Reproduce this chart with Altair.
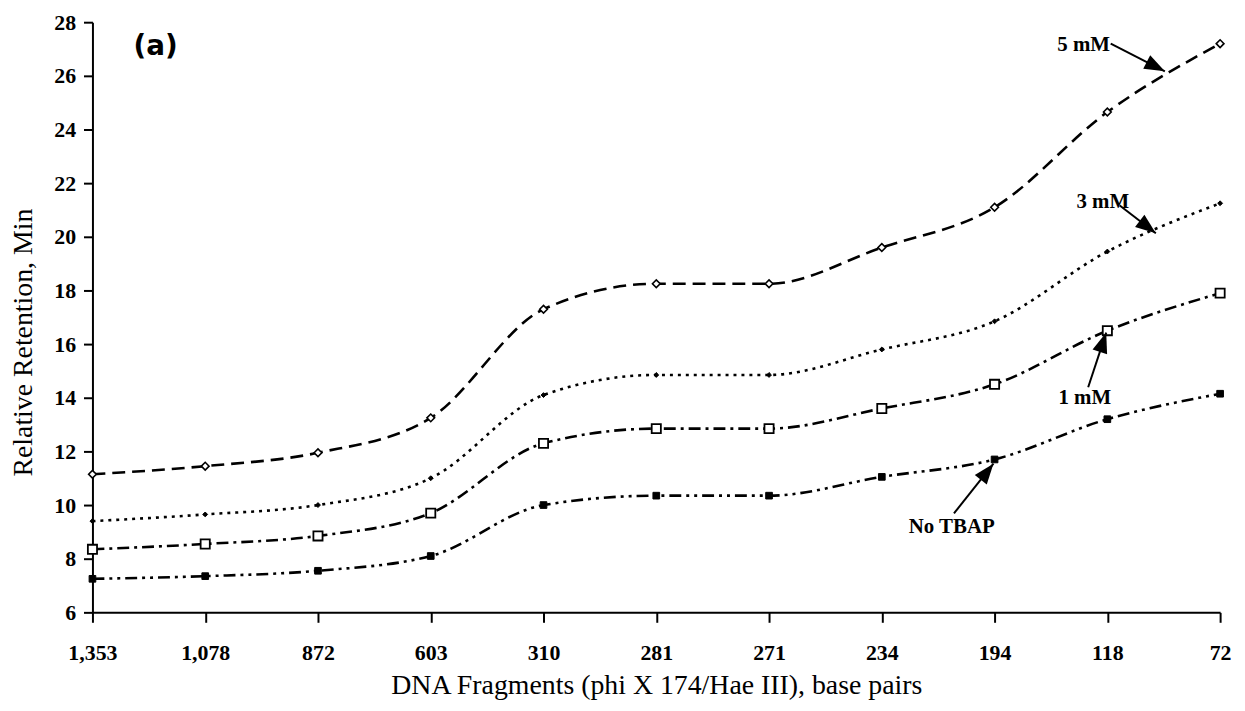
import math
import json
import altair as alt
import pandas as pd

# ---- data ----
fragments = ["1,353", "1,078", "872", "603", "310", "281", "271", "234", "194", "118", "72"]
mm5 = [11.15, 11.45, 11.95, 13.25, 17.3, 18.25, 18.25, 19.6, 21.1, 24.65, 27.2]
mm3 = [9.4, 9.65, 10.0, 11.0, 14.1, 14.85, 14.85, 15.8, 16.85, 19.45, 21.25]
mm1 = [8.35, 8.55, 8.85, 9.7, 12.3, 12.85, 12.85, 13.6, 14.5, 16.5, 17.9]
no_tbap = [7.25, 7.35, 7.55, 8.1, 10.0, 10.35, 10.35, 11.05, 11.7, 13.2, 14.15]

# annotation labels and arrows (data coordinates: x = fragment index, y = retention)
ann_text = ["5 mM", "3 mM", "1 mM", "No TBAP"]
ann_tx = [8.79, 8.96, 8.80, 7.62]
ann_ty = [27.13, 21.28, 13.98, 9.17]
arr_sx = [9.03, 9.11, 8.83, 7.64]
arr_sy = [27.2, 21.17, 14.39, 9.69]
arr_ex = [9.51, 9.43, 8.99, 7.99]
arr_ey = [26.17, 20.13, 16.43, 11.54]

panel_label = ["(a)"]
panel_x = [0.56]
panel_y = [27.09]

y_ticks = list(range(6, 29, 2))

W, H = 1135, 594
X_DOMAIN = [0, len(fragments) - 1]
Y_DOMAIN = [6, 28]

xscale = alt.Scale(domain=X_DOMAIN, nice=False, zero=False)
yscale = alt.Scale(domain=Y_DOMAIN, nice=False, zero=False)

label_expr = json.dumps(fragments) + "[datum.value]"

serif = "Liberation Serif"

x_axis = alt.Axis(
    values=list(range(len(fragments))), labelExpr=label_expr, grid=False,
    title="DNA Fragments (phi X 174/Hae III), base pairs",
    labelPadding=20, titlePadding=9, labelFlush=False, tickSize=10,
)
y_axis = alt.Axis(values=y_ticks, grid=False, title="Relative Retention, Min",
                  labelPadding=8, titlePadding=16, tickSize=9, titleY=322)


def X(field):
    return alt.X(field, type="quantitative", scale=xscale, axis=x_axis)


def Y(field):
    return alt.Y(field, type="quantitative", scale=yscale, axis=y_axis)


series = [
    ("5 mM", mm5, [13, 7], "diamond", "white", 60, 1.6),
    ("3 mM", mm3, [3, 5], "diamond", "black", 24, 1.0),
    ("1 mM", mm1, [12, 5, 3, 5], "square", "white", 85, 1.8),
    ("No TBAP", no_tbap, [12, 5, 3, 5, 3, 5], "square", "black", 45, 1.0),
]

layers = []
for name, vals, dash, shape, fill, size, sw in series:
    df = pd.DataFrame({"idx": list(range(len(fragments))), "val": vals})
    base = alt.Chart(df)
    line = base.mark_line(color="black", strokeWidth=2.6, strokeDash=dash,
                          interpolate="monotone").encode(x=X("idx"), y=Y("val"))
    pts = base.mark_point(shape=shape, filled=True, fill=fill, stroke="black",
                          strokeWidth=sw, size=size, opacity=1).encode(x=X("idx"), y=Y("val"))
    layers += [line, pts]

# arrows
px_x = W / (X_DOMAIN[1] - X_DOMAIN[0])
px_y = H / (Y_DOMAIN[1] - Y_DOMAIN[0])
angles = []
for sx, sy, ex, ey in zip(arr_sx, arr_sy, arr_ex, arr_ey):
    dx = (ex - sx) * px_x
    dy = -(ey - sy) * px_y
    angles.append(math.degrees(math.atan2(dx, -dy)) % 360)

adf = pd.DataFrame({"text": ann_text, "tx": ann_tx, "ty": ann_ty,
                    "sx": arr_sx, "sy": arr_sy, "ex": arr_ex, "ey": arr_ey,
                    "ang": angles})

shaft = alt.Chart(adf).mark_rule(color="black", strokeWidth=2).encode(
    x=X("sx"), y=Y("sy"), x2="ex:Q", y2="ey:Q")
head = alt.Chart(adf).mark_point(
    shape="M0,0 L-0.75,2 L0.75,2 Z", filled=True, color="black", size=420, opacity=1
).encode(x=X("ex"), y=Y("ey"), angle=alt.Angle("ang:Q", scale=None))
labels = alt.Chart(adf).mark_text(
    font=serif, fontWeight="bold", fontSize=21, color="black", align="center",
    baseline="middle"
).encode(x=X("tx"), y=Y("ty"), text="text:N")

pdf = pd.DataFrame({"t": panel_label, "x": panel_x, "y": panel_y})
panel = alt.Chart(pdf).mark_text(
    font="DejaVu Sans", fontWeight="bold", fontSize=28, color="black",
    align="center", baseline="middle"
).encode(x=X("x"), y=Y("y"), text="t:N")

layers += [shaft, head, labels, panel]

chart = alt.layer(*layers).properties(
    width=W, height=H,
    autosize=alt.AutoSizeParams(type="none"),
    padding={"left": 85, "top": 12, "right": 17, "bottom": 97},
    background="white",
).configure_view(stroke=None).configure_axis(
    domainColor="black", domainWidth=2, tickColor="black", tickWidth=2,
    labelFont=serif, labelFontWeight="bold", labelFontSize=22, labelColor="black",
    titleFont=serif, titleFontWeight="normal", titleFontSize=28, titleColor="black",
)

chart.save("out.html", embed_options={"renderer": "svg", "actions": False})
